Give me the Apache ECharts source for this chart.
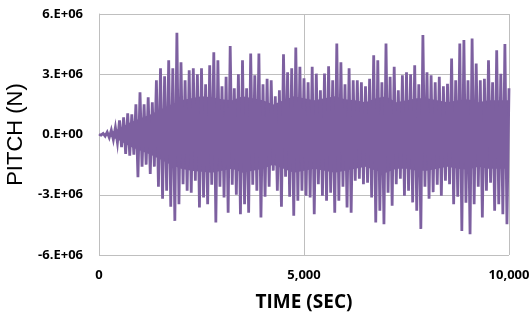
<!DOCTYPE html>
<html>
<head>
<meta charset="utf-8">
<script src="https://cdn.jsdelivr.net/npm/echarts@6/dist/echarts.min.js"></script>
<style>
html,body{margin:0;padding:0;background:#fff;}
#chart{width:531px;height:320px;}
</style>
</head>
<body>
<div id="chart"></div>
<script>
// Peak (upper) values in millions of N, at times 0,100,...,10000 s
const upperTimes = [];
for (let t = 0; t <= 10000; t += 100) upperTimes.push(t);
const upperPeaks = [
 0, 0.05, 0.12, 0.22, 0.35, 0.7, 0.85, 1.05, 1.0, 1.5,
 2.1, 1.5, 1.85, 1.6, 2.7, 3.3, 2.9, 3.7, 3.3, 5.07,
 3.6, 2.7, 3.2, 3.3, 3.0, 3.3, 2.5, 3.45, 4.1, 3.7,
 2.4, 2.87, 4.4, 2.3, 3.0, 3.7, 2.3, 4.03, 2.95, 4.03,
 2.5, 2.78, 2.7, 1.9, 2.2, 4.0, 3.1, 3.3, 4.33, 3.37,
 2.8, 2.6, 3.37, 3.03, 2.2, 3.03, 3.4, 2.7, 4.53, 3.6,
 2.5, 3.3, 2.7, 2.7, 2.6, 2.4, 2.78, 3.95, 3.7, 2.6,
 4.53, 2.87, 3.37, 2.2, 2.95, 3.1, 3.0, 3.45, 2.5, 4.95,
 3.1, 2.95, 2.6, 2.87, 2.4, 2.53, 3.78, 2.7, 4.53, 4.7,
 2.7, 4.78, 3.53, 2.7, 2.78, 3.7, 2.6, 4.2, 3.03, 4.5,
 2.3
];
// Trough (lower) values in millions of N, at times 50,150,...,9950 s
const lowerTimes = [];
for (let t = 50; t < 10000; t += 100) lowerTimes.push(t);
const lowerPeaks = [
 -0.03, -0.08, -0.15, -0.25, -0.4, -0.63, -0.97, -1.05, -1.0, -2.13,
 -1.6, -1.5, -1.97, -1.6, -2.6, -3.2, -2.8, -3.6, -4.3, -3.47,
 -2.47, -2.8, -2.9, -2.3, -3.63, -3.13, -3.47, -2.5, -4.38, -2.6,
 -3.13, -3.9, -2.5, -3.0, -3.97, -3.47, -3.9, -2.5, -2.8, -4.13,
 -3.1, -2.6, -1.8, -2.8, -3.6, -2.1, -3.1, -4.05, -3.3, -2.8,
 -3.05, -3.13, -3.97, -2.47, -3.05, -3.3, -2.9, -3.9, -3.3, -2.6,
 -3.63, -3.9, -2.3, -2.2, -2.47, -2.4, -3.13, -4.38, -3.8, -4.47,
 -2.9, -3.55, -2.47, -2.2, -3.05, -2.8, -3.38, -3.8, -4.7, -2.6,
 -3.2, -2.87, -2.5, -3.05, -2.3, -2.47, -3.47, -3.1, -4.8, -3.4,
 -4.97, -3.47, -2.6, -4.13, -2.8, -2.4, -3.8, -3.47, -3.97, -4.47
];
// Dense solid core of the oscillation (millions of N), at times 0,250,...,10000 s
const coreTimes = [];
for (let t = 0; t <= 10000; t += 250) coreTimes.push(t);
const coreUpper = [
 0, 0.08, 0.3, 0.6, 0.8, 1.0, 1.25, 1.5, 1.7, 1.8,
 1.9, 1.85, 1.75, 1.7, 1.9, 1.8, 1.7, 1.5, 1.7, 1.9,
 1.8, 1.7, 1.8, 1.9, 1.75, 1.7, 1.6, 1.8, 1.9, 1.6,
 1.7, 1.8, 1.8, 1.7, 1.6, 1.7, 1.75, 1.6, 1.7, 1.7,
 1.7
];
const coreLower = [
 0, -0.08, -0.3, -0.6, -0.8, -1.0, -1.25, -1.5, -1.7, -1.8,
 -1.85, -1.9, -1.8, -1.7, -1.9, -1.8, -1.7, -1.5, -1.7, -1.9,
 -1.8, -1.7, -1.8, -1.9, -1.8, -1.7, -1.6, -1.8, -1.9, -1.7,
 -1.7, -1.8, -1.8, -1.7, -1.6, -1.7, -1.75, -1.6, -1.7, -1.7,
 -1.7
];
const xTicks = [0, 5000, 10000];
const yTicks = [-6e6, -3e6, 0, 3e6, 6e6];

const seriesData = [];
for (let i = 0; i < upperTimes.length; i++) {
  seriesData.push([upperTimes[i], upperPeaks[i] * 1e6]);
  if (i < lowerTimes.length) seriesData.push([lowerTimes[i], lowerPeaks[i] * 1e6]);
}
const coreUp = coreTimes.map((t, i) => [t, coreUpper[i] * 1e6]);
const coreDn = coreTimes.map((t, i) => [t, coreLower[i] * 1e6]);

const purple = '#7d60a0';
const chart = echarts.init(document.getElementById('chart'), null, {renderer: 'canvas'});
const gridColor = '#bfbfbf';
chart.setOption({
  animation: false,
  backgroundColor: '#fff',
  grid: {left: 99, right: 22, top: 14, bottom: 65, containLabel: false, outerBoundsMode: 'none'},
  xAxis: {
    type: 'value', min: xTicks[0], max: xTicks[2], interval: 5000,
    name: 'TIME (SEC)', nameLocation: 'middle', nameGap: 38,
    nameTextStyle: {fontFamily: 'Open Sans', fontWeight: 'bold', fontSize: 19, color: '#000'},
    axisLine: {show: true, lineStyle: {color: gridColor}},
    axisTick: {show: false},
    splitLine: {show: true, lineStyle: {color: gridColor, width: 1}},
    axisLabel: {margin: 14, fontFamily: 'Open Sans', fontWeight: 'bold', fontSize: 13, color: '#000',
      formatter: v => v.toLocaleString('en-US')}
  },
  yAxis: {
    type: 'value', min: yTicks[0], max: yTicks[4], interval: 3e6,
    name: 'PITCH (N)', nameLocation: 'middle', nameGap: 63, nameRotate: 90,
    nameTextStyle: {fontFamily: 'Liberation Sans', fontSize: 22, color: '#000'},
    axisLine: {show: true, lineStyle: {color: gridColor}},
    axisTick: {show: false},
    splitLine: {show: true, lineStyle: {color: gridColor, width: 1}},
    axisLabel: {margin: 16, fontFamily: 'Open Sans', fontWeight: 'bold', fontSize: 13, color: '#000',
      formatter: v => { const m = Math.round(v / 1e6); return m + '.E+' + (m === 0 ? '00' : '06'); }}
  },
  series: [
    {type: 'line', data: coreUp, showSymbol: false, symbol: 'none', lineStyle: {width: 0},
     areaStyle: {color: purple, opacity: 1, origin: 0}, silent: true, z: 1},
    {type: 'line', data: coreDn, showSymbol: false, symbol: 'none', lineStyle: {width: 0},
     areaStyle: {color: purple, opacity: 1, origin: 0}, silent: true, z: 1},
    {type: 'line', data: seriesData, showSymbol: false, symbol: 'none',
     sampling: null, smooth: false,
     lineStyle: {color: purple, width: 2.8, join: 'miter'},
     itemStyle: {color: purple}, z: 2}
  ]
});
</script>
</body>
</html>
